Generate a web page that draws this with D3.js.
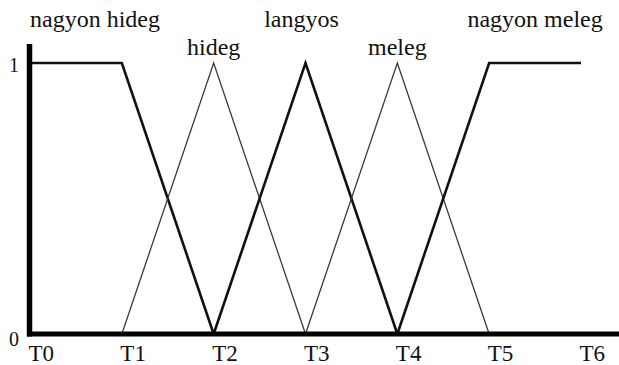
<!DOCTYPE html>
<html>
<head>
<meta charset="utf-8">
<script src="https://cdn.jsdelivr.net/npm/d3@7"></script>
<style>
  html, body { margin: 0; padding: 0; background: #fff; }
  svg { display: block; }
  text { font-family: "Liberation Serif", "Times New Roman", Times, Tinos, "DejaVu Serif", "Noto Serif", serif; fill: #111; }
</style>
</head>
<body>
<svg id="chart" width="619" height="365"></svg>
<script>
// Temperature breakpoints on the horizontal axis
const tickLabels = ["T0", "T1", "T2", "T3", "T4", "T5", "T6"];
const tickValues = [0, 1, 2, 3, 4, 5, 6];

// Membership degree ticks
const degreeTicks = [0, 1];

// Fuzzy set names
const setNames = ["nagyon hideg", "hideg", "langyos", "meleg", "nagyon meleg"];

// Breakpoints (index along T axis) and membership values of each set
const nagyonHidegT = [0, 1, 2];
const nagyonHidegMu = [1, 1, 0];
const hidegT = [1, 2, 3];
const hidegMu = [0, 1, 0];
const langyosT = [2, 3, 4];
const langyosMu = [0, 1, 0];
const melegT = [3, 4, 5];
const melegMu = [0, 1, 0];
const nagyonMelegT = [4, 5, 6];
const nagyonMelegMu = [0, 1, 1];

const svg = d3.select("#chart");

const x = d3.scaleLinear().domain([0, 6]).range([30, 581]);
const y = d3.scaleLinear().domain([0, 1]).range([334, 63]);

const sets = [
  { name: setNames[0], t: nagyonHidegT, mu: nagyonHidegMu, heavy: true },
  { name: setNames[1], t: hidegT, mu: hidegMu, heavy: false },
  { name: setNames[2], t: langyosT, mu: langyosMu, heavy: true },
  { name: setNames[3], t: melegT, mu: melegMu, heavy: false },
  { name: setNames[4], t: nagyonMelegT, mu: nagyonMelegMu, heavy: true }
];

const line = d3.line().x(d => x(d[0])).y(d => y(d[1]));

// membership curves
svg.append("g")
  .selectAll("path")
  .data(sets)
  .join("path")
  .attr("d", s => line(s.t.map((t, i) => [t, s.mu[i]])))
  .attr("fill", "none")
  .attr("stroke", s => s.heavy ? "#111" : "#3a3a3a")
  .attr("stroke-width", s => s.heavy ? 2.6 : 1.3)
  .attr("stroke-linejoin", "miter");

// axes (heavy L-shaped frame)
svg.append("line")
  .attr("x1", 29.5).attr("x2", 29.5)
  .attr("y1", 44).attr("y2", 336.5)
  .attr("stroke", "#000").attr("stroke-width", 5.5);
svg.append("line")
  .attr("x1", 27).attr("x2", 619)
  .attr("y1", 334).attr("y2", 334)
  .attr("stroke", "#000").attr("stroke-width", 5);

const serif = "'Liberation Serif', 'Times New Roman', Times, Tinos, 'DejaVu Serif', serif";

// horizontal tick labels
const xAxis = d3.axisBottom(x)
  .tickValues(tickValues)
  .tickFormat(i => tickLabels[i])
  .tickSize(0)
  .tickPadding(0);
const gx = svg.append("g").attr("transform", "translate(0,361)").call(xAxis);
gx.select(".domain").remove();
gx.attr("font-family", null).attr("font-size", null);
gx.selectAll("text")
  .attr("dy", 0)
  .attr("y", 0)
  .attr("x", -2)
  .attr("text-anchor", "start")
  .style("font-family", serif)
  .style("font-size", "23px")
  .style("fill", "#111");

// vertical tick labels
const yAxis = d3.axisLeft(y)
  .tickValues(degreeTicks)
  .tickFormat(d3.format("d"))
  .tickSize(0)
  .tickPadding(0);
const gy = svg.append("g").attr("transform", "translate(19,0)").call(yAxis);
gy.select(".domain").remove();
gy.attr("font-family", null).attr("font-size", null);
gy.selectAll("text")
  .attr("dy", "0.35em")
  .attr("x", 0)
  .attr("text-anchor", "end")
  .style("font-family", serif)
  .style("font-size", "20px")
  .style("fill", "#111");
gy.selectAll(".tick").attr("transform", d => `translate(0,${y(d) + (d === 1 ? 2 : 5)})`);

// set name labels above each peak / plateau
const labelPos = [
  { at: 0, anchor: "start", dx: 0, baseline: 27 },
  { at: 2, anchor: "middle", dx: 0, baseline: 55 },
  { at: 3, anchor: "middle", dx: -4, baseline: 27 },
  { at: 4, anchor: "middle", dx: 0, baseline: 55 },
  { at: 5.5, anchor: "middle", dx: 0, baseline: 27 }
];
svg.append("g")
  .selectAll("text")
  .data(sets)
  .join("text")
  .attr("x", (s, i) => x(labelPos[i].at) + labelPos[i].dx)
  .attr("y", (s, i) => labelPos[i].baseline)
  .attr("text-anchor", (s, i) => labelPos[i].anchor)
  .style("font-family", serif)
  .style("font-size", "24px")
  .text(s => s.name);
</script>
</body>
</html>
